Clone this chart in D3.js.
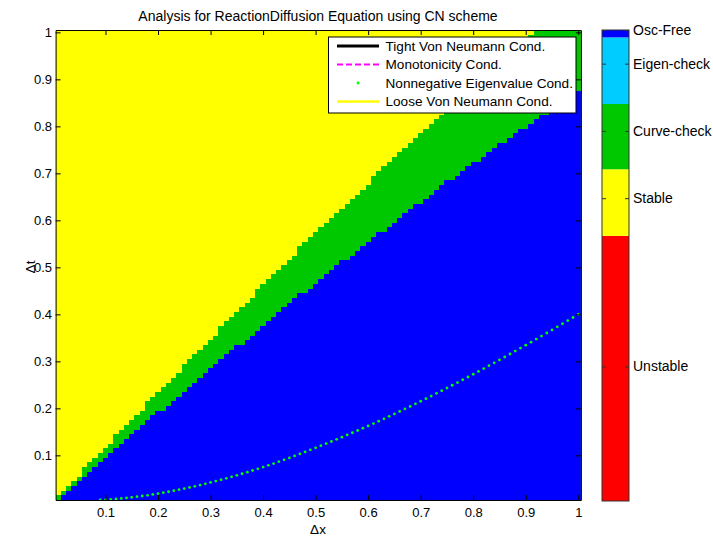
<!DOCTYPE html>
<html><head><meta charset="utf-8">
<script src="https://cdn.jsdelivr.net/npm/d3@7"></script>
<style>body{margin:0;background:#fff}svg{display:block}text{font-family:"Liberation Sans",Arial,sans-serif;fill:#000}</style>
</head><body><svg id="c" width="713" height="541"></svg>
<script>
// ---- data ----
const gridDx = d3.range(1, 101).map(i => i / 100);   // Δx cell centres 0.01..1
// per column: first Δt row (x0.01) that is "Curve-check" (green); rows below are "Osc-Free" (blue)
const greenFromRow = [1,2,3,4,5,6,7,8,9,10,11,12,13,14,15,16,17,18,19,20,
 20,21,22,23,24,25,26,27,28,29,30,31,32,33,34,34,35,36,37,38,
 39,40,41,42,43,44,45,45,46,47,48,49,50,51,52,52,53,54,55,56,
 57,58,58,59,60,61,62,63,64,64,65,66,67,68,69,69,70,71,72,73,
 73,74,75,76,77,77,78,79,80,80,81,82,83,83,84,85,86,86,87,88];
// per column: first Δt row that is "Stable" (yellow)
const yellowFromRow = [2,3,4,5,6,8,9,10,11,12,13,15,16,17,18,19,20,22,23,24,
 25,26,27,28,30,31,32,33,34,35,36,38,39,40,41,42,43,44,46,47,
 48,49,50,51,52,53,55,56,57,58,59,60,61,62,63,64,65,66,67,68,
 70,71,72,73,74,75,76,77,78,79,80,81,82,83,84,85,86,87,88,89,
 90,91,92,93,94,95,96,97,98,99,100,101,102,103,104,105,106,107,108,109];
// Nonnegative eigenvalue condition curve
const eigenDx = [0.09,0.10,0.11,0.12,0.13,0.14,0.15,0.16,0.17,0.18,0.19,0.20,0.21,0.22,0.23,0.24,0.25,0.26,0.27,0.28,0.29,0.30,
 0.31,0.32,0.33,0.34,0.35,0.36,0.37,0.38,0.39,0.40,0.41,0.42,0.43,0.44,0.45,0.46,0.47,0.48,0.49,0.50,
 0.51,0.52,0.53,0.54,0.55,0.56,0.57,0.58,0.59,0.60,0.61,0.62,0.63,0.64,0.65,0.66,0.67,0.68,0.69,0.70,
 0.71,0.72,0.73,0.74,0.75,0.76,0.77,0.78,0.79,0.80,0.81,0.82,0.83,0.84,0.85,0.86,0.87,0.88,0.89,0.90,
 0.91,0.92,0.93,0.94,0.95,0.96,0.97,0.98,0.99,1.00];
const eigenDt = [0.005,0.0055,0.0062,0.0072,0.0083,0.0095,0.0107,0.012,0.0135,0.015,0.0168,0.0186,0.0205,0.0226,0.0247,0.027,0.0293,0.0317,0.0342,0.0368,0.0395,0.0423,
 0.0452,0.0481,0.0512,0.0543,0.0576,0.0609,0.0643,0.0678,0.0714,0.075,0.0788,0.0826,0.0865,0.0905,0.0946,0.0987,0.103,0.1073,0.1117,0.1161,
 0.1206,0.125,0.1295,0.1341,0.1387,0.1434,0.1481,0.1529,0.1578,0.1627,0.1677,0.1727,0.1778,0.183,0.1882,0.1935,0.1988,0.2042,0.2096,0.2151,
 0.2206,0.2262,0.2319,0.2375,0.2433,0.2491,0.2549,0.2608,0.2667,0.2726,0.2786,0.2847,0.2908,0.2969,0.3031,0.3093,0.3156,0.3218,0.3282,0.3345,
 0.3409,0.3474,0.3538,0.3603,0.3669,0.3734,0.38,0.3867,0.3933,0.40];
const xTicks = [0.1,0.2,0.3,0.4,0.5,0.6,0.7,0.8,0.9,1];
const yTicks = [0.1,0.2,0.3,0.4,0.5,0.6,0.7,0.8,0.9,1];
const legendLabels = ["Tight Von Neumann Cond.","Monotonicity Cond.","Nonnegative Eigenvalue Cond.","Loose Von Neumann Cond."];
const cbLabels = ["Unstable","Stable","Curve-check","Eigen-check","Osc-Free"];
const cbTickValues = [2,4.5,5.5,6.5,7];
const cbBreaks = [0,3.94,4.93,5.9,6.89,7];
const cbColors = ["#ff0000","#ffff00","#00c800","#00ccff","#0000ff"];
const titleText = "Analysis for ReactionDiffusion Equation using CN scheme";

// ---- drawing ----
const svg = d3.select("#c");
const COL = {blue:"#0000ff", green:"#00c800", yellow:"#ffff00"};
const x = d3.scaleLinear().domain([0.005, 1.005]).range([55.6, 580.9]);
const y = d3.scaleLinear().domain([0.005, 1.005]).range([500, 30]);
const half = 0.005;

svg.append("defs").append("clipPath").attr("id","pc")
  .append("rect").attr("x",x(0.005)).attr("y",y(1.005)).attr("width",x(1.005)-x(0.005)).attr("height",y(0.005)-y(1.005));

const plot = svg.append("g").attr("clip-path","url(#pc)");
plot.append("rect").attr("x",x(0.005)).attr("y",y(1.005))
  .attr("width",x(1.005)-x(0.005)).attr("height",y(0.005)-y(1.005)).attr("fill",COL.yellow);

const cols = gridDx.map((d,i)=>({dx:d, g:greenFromRow[i], yl:yellowFromRow[i]}));
plot.append("g").selectAll("rect").data(cols).join("rect")
  .attr("shape-rendering","crispEdges")
  .attr("x", d=>x(d.dx-half))
  .attr("width", d=>x(d.dx+half)-x(d.dx-half)+1)
  .attr("y", d=>y(Math.min(d.yl-0.5, 100.5)/100))
  .attr("height", d=>y(0.005)-y(Math.min(d.yl-0.5,100.5)/100))
  .attr("fill", COL.green);
plot.append("g").selectAll("rect").data(cols.filter(d=>d.g>1)).join("rect")
  .attr("shape-rendering","crispEdges")
  .attr("x", d=>x(d.dx-half))
  .attr("width", d=>x(d.dx+half)-x(d.dx-half)+1)
  .attr("y", d=>y((d.g-0.5)/100))
  .attr("height", d=>y(0.005)-y((d.g-0.5)/100))
  .attr("fill", COL.blue);

// eigenvalue dots
plot.append("g").selectAll("circle").data(eigenDx.map((d,i)=>[d,eigenDt[i]])).join("circle")
  .attr("cx",d=>x(d[0])).attr("cy",d=>y(d[1])).attr("r",1.4).attr("fill","#00ff00");

// axes
const fmt = d => String(d);
const gx = svg.append("g").attr("transform",`translate(0,${y(0.005)})`)
  .call(d3.axisBottom(x).tickValues(xTicks).tickSize(-5).tickSizeOuter(0).tickFormat(fmt));
gx.selectAll("text").attr("y",16.8).attr("dy",null).style("font-size","13px");
const gy = svg.append("g").attr("transform",`translate(${x(0.005)},0)`)
  .call(d3.axisLeft(y).tickValues(yTicks).tickSize(-5).tickSizeOuter(0).tickPadding(3.5).tickFormat(fmt));
gy.selectAll("text").style("font-size","13px");
svg.append("g").attr("transform",`translate(0,${y(1.005)})`)
  .call(d3.axisTop(x).tickValues(xTicks).tickSize(-5).tickSizeOuter(0).tickFormat(""));
svg.append("g").attr("transform",`translate(${x(1.005)},0)`)
  .call(d3.axisRight(y).tickValues(yTicks).tickSize(-5).tickSizeOuter(0).tickFormat(""));
svg.selectAll(".domain").attr("stroke","#000");
svg.selectAll(".tick line").attr("stroke","#000");
svg.selectAll(".tick text").attr("font-family",null);

// labels
svg.append("text").attr("x",318).attr("y",21).attr("text-anchor","middle").style("font-size","14px").text(titleText);
svg.append("text").attr("x",318).attr("y",534).attr("text-anchor","middle").style("font-size","13.5px").text("\u0394x");
svg.append("text").attr("transform","translate(34.5,267) rotate(-90)").attr("text-anchor","middle").style("font-size","13.5px").text("\u0394t");

// legend
const lg = svg.append("g");
lg.append("rect").attr("x",328.5).attr("y",37).attr("width",247.5).attr("height",76).attr("fill","#fff").attr("stroke","#000").attr("stroke-width",1);
const rowsY = [46,64.5,83,101.5];
const styles = [
  {stroke:"#000", w:3, dash:null, dot:false},
  {stroke:"#ff00ff", w:2, dash:"6,3", dot:false},
  {stroke:null, dot:true},
  {stroke:"#ffff00", w:2.5, dash:null, dot:false}];
legendLabels.forEach((lab,i)=>{
  const s = styles[i];
  if (s.dot) lg.append("circle").attr("cx",358).attr("cy",rowsY[i]).attr("r",1.4).attr("fill","#00ff00");
  else lg.append("line").attr("x1",337).attr("x2",379).attr("y1",rowsY[i]).attr("y2",rowsY[i])
    .attr("stroke",s.stroke).attr("stroke-width",s.w).attr("stroke-dasharray",s.dash);
  lg.append("text").attr("x",385.5).attr("y",rowsY[i]).attr("dy","0.36em").style("font-size","13.6px").text(lab);
});

// colorbar
const cy = d3.scaleLinear().domain([0,7]).range([501,30]);
const cbx0 = 602, cbx1 = 629;
const cb = svg.append("g");
cb.selectAll("rect.band").data(cbColors).join("rect").attr("class","band")
  .attr("x",cbx0).attr("width",cbx1-cbx0)
  .attr("y",(d,i)=>cy(cbBreaks[i+1])).attr("height",(d,i)=>cy(cbBreaks[i])-cy(cbBreaks[i+1]))
  .attr("fill",d=>d);
cb.append("rect").attr("x",cbx0).attr("y",cy(7)).attr("width",cbx1-cbx0).attr("height",cy(0)-cy(7))
  .attr("fill","none").attr("stroke","#333");
const cbAxis = cb.append("g").attr("transform",`translate(${cbx1},0)`)
  .call(d3.axisRight(cy).tickValues(cbTickValues).tickSize(-4).tickSizeOuter(0).tickPadding(4).tickFormat((d,i)=>cbLabels[i]));
cbAxis.select(".domain").remove();
cbAxis.selectAll("text").style("font-size","14px").attr("font-family",null);
cbAxis.selectAll(".tick line").attr("stroke","#333");
cb.append("g").attr("transform",`translate(${cbx0},0)`)
  .call(d3.axisLeft(cy).tickValues(cbTickValues).tickSize(-4).tickSizeOuter(0).tickFormat(""))
  .call(g=>{g.select(".domain").remove(); g.selectAll(".tick line").attr("stroke","#333");});
</script></body></html>
